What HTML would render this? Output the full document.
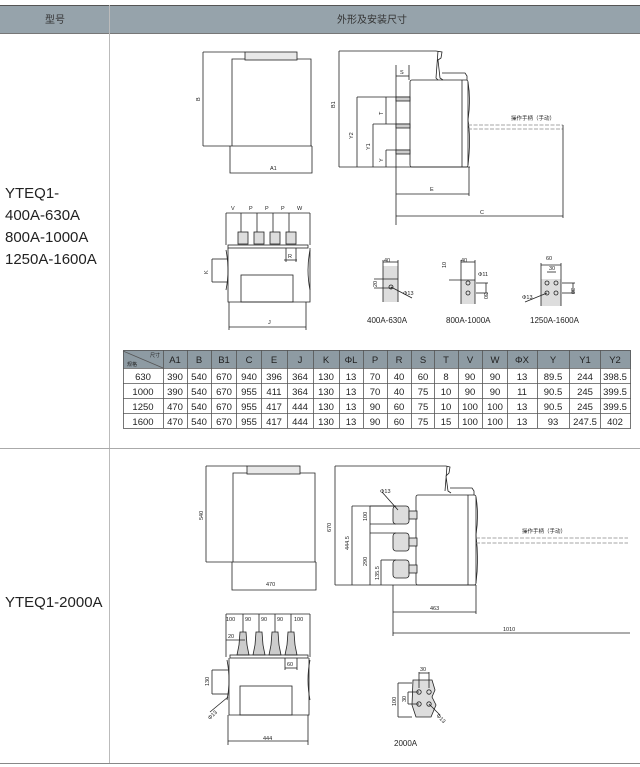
<!DOCTYPE html>
<html><head><meta charset="utf-8"><style>
body{margin:0;background:#fff;width:640px;height:767px;overflow:hidden;font-family:"Liberation Sans","Noto Sans CJK SC",sans-serif}
svg{position:absolute;left:0;top:0}
</style></head><body>
<svg width="640" height="767" viewBox="0 0 640 767" xmlns="http://www.w3.org/2000/svg" font-family="Liberation Sans, Noto Sans CJK SC, sans-serif">
<!-- header -->
<rect x="0" y="5" width="640" height="29" fill="#96a3ab"/>
<line x1="0" y1="5.5" x2="640" y2="5.5" stroke="#555" stroke-width="1"/>
<line x1="0" y1="33.5" x2="640" y2="33.5" stroke="#777" stroke-width="1"/>
<text x="55" y="23" font-size="10" text-anchor="middle" fill="#333">型号</text>
<text x="372" y="23" font-size="10" text-anchor="middle" fill="#333">外形及安装尺寸</text>
<line x1="109.5" y1="5" x2="109.5" y2="763" stroke="#bbb"/>
<line x1="0" y1="448.5" x2="640" y2="448.5" stroke="#aaa"/>
<line x1="0" y1="763.5" x2="640" y2="763.5" stroke="#888"/>
<g font-size="15" fill="#222">
<text x="5" y="198">YTEQ1-</text>
<text x="5" y="220">400A-630A</text>
<text x="5" y="242">800A-1000A</text>
<text x="5" y="264">1250A-1600A</text>
<text x="5" y="607">YTEQ1-2000A</text>
</g>

<g stroke="#222" stroke-width="0.8" fill="none">
<!-- top front view -->
<line x1="203" y1="52" x2="245" y2="52"/>
<line x1="203" y1="52" x2="203" y2="146"/>
<rect x="245" y="52" width="52" height="8" fill="#e8e8e8"/>
<polyline points="245,59 232,59 232,146"/><polyline points="297,59 311,59 311,146"/>
<line x1="203" y1="146" x2="312" y2="146"/>
<polyline points="230,146 230,173 312,173 312,146"/>
<!-- side view -->
<line x1="339" y1="51" x2="436" y2="51"/><line x1="339" y1="51" x2="339" y2="167"/>
<line x1="339" y1="167" x2="470" y2="167"/>
<path d="M436,51 L442,52 L441,58 L438,60 L440,78 L443,80 M438,51 L436,78 L438,80"/>
<path d="M442,73 L465,73 L467,76 L467,80"/>
<rect x="410" y="80" width="58" height="87" rx="2"/>
<line x1="462" y1="80" x2="462" y2="167"/>
<path d="M468,82 Q471,100 468,120 Q471,140 468,165"/>
<line x1="396" y1="65" x2="396" y2="225"/><line x1="396" y1="76" x2="409" y2="76"/>
<line x1="357" y1="97" x2="410" y2="97"/><line x1="373" y1="124" x2="410" y2="124"/><line x1="386" y1="150" x2="410" y2="150"/>
<rect x="396" y="97" width="14" height="4" fill="#ccc"/><rect x="396" y="124" width="14" height="4" fill="#ccc"/><rect x="396" y="150" width="14" height="4" fill="#ccc"/>
<line x1="357" y1="97" x2="357" y2="167"/><line x1="373" y1="124" x2="373" y2="167"/><line x1="386" y1="97" x2="386" y2="124"/><line x1="386" y1="150" x2="386" y2="167"/>
<line x1="409" y1="65" x2="409" y2="80"/>
<line x1="468" y1="125" x2="563" y2="125" stroke-dasharray="4,1.5" stroke="#888"/>
<line x1="468" y1="129" x2="563" y2="129" stroke-dasharray="4,1.5" stroke="#888"/>
<line x1="563" y1="125" x2="563" y2="218"/>
<line x1="469" y1="167" x2="469" y2="196"/>
<line x1="396" y1="194" x2="469" y2="194"/>
<line x1="396" y1="216" x2="563" y2="216"/>
<!-- top bottom-left view -->
<line x1="226" y1="213" x2="310" y2="213"/>
<line x1="226" y1="213" x2="226" y2="245"/><line x1="310" y1="213" x2="310" y2="245"/>
<line x1="241" y1="213" x2="241" y2="232"/><line x1="257" y1="213" x2="257" y2="232"/><line x1="273" y1="213" x2="273" y2="232"/><line x1="289" y1="213" x2="289" y2="232"/>
<rect x="238" y="232" width="10" height="12" fill="#ddd"/><rect x="254" y="232" width="10" height="12" fill="#ddd"/><rect x="270" y="232" width="10" height="12" fill="#ddd"/><rect x="286" y="232" width="10" height="12" fill="#ddd"/>
<rect x="228" y="245" width="80" height="3"/>
<path d="M228,248 L228,302 L310,302 L310,248"/>
<path d="M226,250 Q230,270 226,290 M310,250 Q306,270 310,290"/>
<rect x="241" y="275" width="52" height="27"/>
<line x1="212" y1="259" x2="228" y2="259"/><line x1="212" y1="282" x2="228" y2="282"/><line x1="212" y1="259" x2="212" y2="282"/>
<line x1="229" y1="302" x2="229" y2="330"/><line x1="306" y1="302" x2="306" y2="330"/>
<line x1="229" y1="327" x2="306" y2="327"/>
<line x1="286" y1="248" x2="286" y2="262"/><line x1="296" y1="248" x2="296" y2="262"/><line x1="284" y1="260" x2="297" y2="260"/>
<!-- busbars -->
<rect x="383" y="266" width="15" height="36" fill="#ddd" stroke="none"/>
<line x1="383" y1="260" x2="383" y2="302"/><line x1="398" y1="260" x2="398" y2="302"/><line x1="383" y1="262" x2="398" y2="262"/>
<line x1="374" y1="279" x2="398" y2="279"/><line x1="374" y1="288" x2="392" y2="288"/><circle cx="391" cy="287" r="2"/>
<line x1="391" y1="287" x2="412" y2="298"/>
<rect x="461" y="280" width="14" height="24" fill="#ddd" stroke="none"/>
<line x1="461" y1="260" x2="461" y2="304"/><line x1="475" y1="260" x2="475" y2="304"/><line x1="461" y1="262" x2="475" y2="262"/>
<line x1="449" y1="280" x2="475" y2="280"/><circle cx="468" cy="283" r="2"/><circle cx="468" cy="293" r="2"/>
<line x1="476" y1="283" x2="488" y2="283"/><line x1="476" y1="293" x2="488" y2="293"/><line x1="486" y1="283" x2="486" y2="293"/>
<rect x="541" y="279" width="20" height="27" fill="#ddd" stroke="none"/>
<line x1="541" y1="263" x2="541" y2="306"/><line x1="561" y1="263" x2="561" y2="306"/><line x1="541" y1="265" x2="561" y2="265"/>
<circle cx="547" cy="283" r="2"/><circle cx="556" cy="283" r="2"/><circle cx="547" cy="293" r="2"/><circle cx="556" cy="293" r="2"/>
<line x1="562" y1="283" x2="575" y2="283"/><line x1="562" y1="293" x2="575" y2="293"/><line x1="573" y1="283" x2="573" y2="293"/>
<line x1="547" y1="272" x2="556" y2="272"/>
<line x1="547" y1="293" x2="525" y2="302"/>
</g>
<g font-size="5.5" fill="#222">
<text x="200" y="101" transform="rotate(-90 200 101)">B</text>
<text x="270" y="170">A1</text>
<text x="335" y="108" transform="rotate(-90 335 108)">B1</text>
<text x="353" y="139" transform="rotate(-90 353 139)">Y2</text>
<text x="370" y="150" transform="rotate(-90 370 150)">Y1</text>
<text x="383" y="162" transform="rotate(-90 383 162)">Y</text>
<text x="383" y="115" transform="rotate(-90 383 115)">T</text>
<text x="400" y="74">S</text>
<text x="511" y="120">操作手柄（手动）</text>
<text x="430" y="191">E</text>
<text x="480" y="214">C</text>
<text x="231" y="210">V</text><text x="249" y="210">P</text><text x="265" y="210">P</text><text x="281" y="210">P</text><text x="297" y="210">W</text>
<text x="208" y="274" transform="rotate(-90 208 274)">K</text>
<text x="268" y="324">J</text><text x="288" y="258">R</text>
<text x="384" y="262">40</text><text x="461" y="262">40</text><text x="546" y="260">60</text><text x="549" y="270">30</text>
<text x="377" y="287" transform="rotate(-90 377 287)">20</text>
<text x="446" y="268" transform="rotate(-90 446 268)">10</text>
<text x="484" y="293" transform="rotate(90 484 293)">30</text>
<text x="571" y="288" transform="rotate(90 571 288)">30</text>
<text x="403" y="295">Φ13</text><text x="478" y="276">Φ11</text><text x="522" y="299">Φ13</text>
</g>
<g font-size="8" fill="#222">
<text x="367" y="323">400A-630A</text><text x="446" y="323">800A-1000A</text><text x="530" y="323">1250A-1600A</text>
</g>

<!-- table -->
<g font-size="9.5" fill="#222" text-anchor="middle">
<rect x="123" y="350" width="508" height="18" fill="#8e9ba3"/>
<g stroke="#555" stroke-width="0.8" fill="none">
<rect x="123.5" y="350.5" width="507" height="78"/>
<line x1="123" y1="368.5" x2="631" y2="368.5"/><line x1="123" y1="383.5" x2="631" y2="383.5"/><line x1="123" y1="398.5" x2="631" y2="398.5"/><line x1="123" y1="413.5" x2="631" y2="413.5"/>
<line x1="123" y1="351" x2="163" y2="368"/>
</g>
<g id="cols" stroke="#555" stroke-width="0.8">
<line x1="163.5" y1="350" x2="163.5" y2="428"/><line x1="187.5" y1="350" x2="187.5" y2="428"/><line x1="211.5" y1="350" x2="211.5" y2="428"/><line x1="236.5" y1="350" x2="236.5" y2="428"/><line x1="261.5" y1="350" x2="261.5" y2="428"/><line x1="287.5" y1="350" x2="287.5" y2="428"/><line x1="313.5" y1="350" x2="313.5" y2="428"/><line x1="339.5" y1="350" x2="339.5" y2="428"/><line x1="363.5" y1="350" x2="363.5" y2="428"/><line x1="387.5" y1="350" x2="387.5" y2="428"/><line x1="411.5" y1="350" x2="411.5" y2="428"/><line x1="434.5" y1="350" x2="434.5" y2="428"/><line x1="458.5" y1="350" x2="458.5" y2="428"/><line x1="482.5" y1="350" x2="482.5" y2="428"/><line x1="507.5" y1="350" x2="507.5" y2="428"/><line x1="537.5" y1="350" x2="537.5" y2="428"/><line x1="569.5" y1="350" x2="569.5" y2="428"/><line x1="600.5" y1="350" x2="600.5" y2="428"/>
</g>
<text x="127" y="366" font-size="5" text-anchor="start">规格</text><text x="155" y="357" font-size="5">尺寸</text>
<text x="175" y="363">A1</text><text x="199" y="363">B</text><text x="224" y="363">B1</text><text x="249" y="363">C</text><text x="274" y="363">E</text><text x="300" y="363">J</text><text x="326" y="363">K</text><text x="351" y="363">ΦL</text><text x="375" y="363">P</text><text x="399" y="363">R</text><text x="423" y="363">S</text><text x="446" y="363">T</text><text x="470" y="363">V</text><text x="495" y="363">W</text><text x="522" y="363">ΦX</text><text x="553" y="363">Y</text><text x="585" y="363">Y1</text><text x="615" y="363">Y2</text>
<g>
<text x="143" y="380">630</text><text x="175" y="380">390</text><text x="199" y="380">540</text><text x="224" y="380">670</text><text x="249" y="380">940</text><text x="274" y="380">396</text><text x="300" y="380">364</text><text x="326" y="380">130</text><text x="351" y="380">13</text><text x="375" y="380">70</text><text x="399" y="380">40</text><text x="423" y="380">60</text><text x="446" y="380">8</text><text x="470" y="380">90</text><text x="495" y="380">90</text><text x="522" y="380">13</text><text x="553" y="380">89.5</text><text x="585" y="380">244</text><text x="615" y="380">398.5</text>
<text x="143" y="395">1000</text><text x="175" y="395">390</text><text x="199" y="395">540</text><text x="224" y="395">670</text><text x="249" y="395">955</text><text x="274" y="395">411</text><text x="300" y="395">364</text><text x="326" y="395">130</text><text x="351" y="395">13</text><text x="375" y="395">70</text><text x="399" y="395">40</text><text x="423" y="395">75</text><text x="446" y="395">10</text><text x="470" y="395">90</text><text x="495" y="395">90</text><text x="522" y="395">11</text><text x="553" y="395">90.5</text><text x="585" y="395">245</text><text x="615" y="395">399.5</text>
<text x="143" y="410">1250</text><text x="175" y="410">470</text><text x="199" y="410">540</text><text x="224" y="410">670</text><text x="249" y="410">955</text><text x="274" y="410">417</text><text x="300" y="410">444</text><text x="326" y="410">130</text><text x="351" y="410">13</text><text x="375" y="410">90</text><text x="399" y="410">60</text><text x="423" y="410">75</text><text x="446" y="410">10</text><text x="470" y="410">100</text><text x="495" y="410">100</text><text x="522" y="410">13</text><text x="553" y="410">90.5</text><text x="585" y="410">245</text><text x="615" y="410">399.5</text>
<text x="143" y="425">1600</text><text x="175" y="425">470</text><text x="199" y="425">540</text><text x="224" y="425">670</text><text x="249" y="425">955</text><text x="274" y="425">417</text><text x="300" y="425">444</text><text x="326" y="425">130</text><text x="351" y="425">13</text><text x="375" y="425">90</text><text x="399" y="425">60</text><text x="423" y="425">75</text><text x="446" y="425">15</text><text x="470" y="425">100</text><text x="495" y="425">100</text><text x="522" y="425">13</text><text x="553" y="425">93</text><text x="585" y="425">247.5</text><text x="615" y="425">402</text>
</g>
</g>

<!-- bottom section -->
<g stroke="#222" stroke-width="0.8" fill="none">
<line x1="206" y1="466" x2="247" y2="466"/><line x1="206" y1="466" x2="206" y2="562"/>
<rect x="247" y="466" width="53" height="8" fill="#e8e8e8"/>
<polyline points="247,473 233,473 233,562"/><polyline points="300,473 315,473 315,562"/>
<line x1="206" y1="562" x2="316" y2="562"/>
<polyline points="232,562 232,590 316,590 316,562"/>
<line x1="335" y1="466" x2="446" y2="466"/><line x1="335" y1="466" x2="335" y2="585"/>
<line x1="335" y1="585" x2="476" y2="585"/>
<path d="M446,466 L450,467 L449,473 L446,476 L448,491 L451,493 M447,466 L445,491"/>
<path d="M450,488 L472,488 L474,491 L474,495"/>
<rect x="416" y="495" width="60" height="90" rx="2"/>
<line x1="468" y1="495" x2="468" y2="585"/>
<path d="M476,497 Q479,515 476,535 Q479,560 476,583"/>
<line x1="352" y1="506" x2="396" y2="506"/><line x1="352" y1="506" x2="352" y2="585"/>
<line x1="370" y1="506" x2="370" y2="533"/><line x1="370" y1="533" x2="396" y2="533"/>
<line x1="370" y1="533" x2="370" y2="585"/>
<line x1="381" y1="560" x2="396" y2="560"/><line x1="381" y1="560" x2="381" y2="585"/>
<line x1="370" y1="506" x2="396" y2="506"/><line x1="370" y1="524" x2="396" y2="524"/>
<rect x="393" y="506" width="16" height="18" rx="3" fill="#ddd"/><rect x="409" y="511" width="8" height="8" fill="#ddd"/>
<rect x="393" y="533" width="16" height="18" rx="3" fill="#ddd"/><rect x="409" y="538" width="8" height="8" fill="#ddd"/>
<rect x="393" y="560" width="16" height="18" rx="3" fill="#ddd"/><rect x="409" y="565" width="8" height="8" fill="#ddd"/>
<line x1="382" y1="492" x2="398" y2="510"/>
<line x1="476" y1="538" x2="628" y2="538" stroke-dasharray="4,1.5" stroke="#888"/>
<line x1="476" y1="543" x2="628" y2="543" stroke-dasharray="4,1.5" stroke="#888"/>
<line x1="393" y1="585" x2="393" y2="636"/><line x1="476" y1="585" x2="476" y2="614"/>
<line x1="393" y1="612" x2="476" y2="612"/><line x1="393" y1="633" x2="630" y2="633"/>
<!-- bottom-left view -->
<line x1="226" y1="614" x2="310" y2="614"/>
<line x1="226" y1="614" x2="226" y2="657"/><line x1="310" y1="614" x2="310" y2="657"/>
<line x1="243" y1="614" x2="243" y2="632"/><line x1="259" y1="614" x2="259" y2="632"/><line x1="275" y1="614" x2="275" y2="632"/><line x1="291" y1="614" x2="291" y2="632"/>
<path d="M240,632 L246,632 L247,645 L249,655 L237,655 L239,645Z" fill="#ccc"/>
<path d="M256,632 L262,632 L263,645 L265,655 L253,655 L255,645Z" fill="#ccc"/>
<path d="M272,632 L278,632 L279,645 L281,655 L269,655 L271,645Z" fill="#ccc"/>
<path d="M288,632 L294,632 L295,645 L297,655 L285,655 L287,645Z" fill="#ccc"/>
<line x1="226" y1="640" x2="245" y2="640"/>
<rect x="230" y="655" width="78" height="3"/>
<path d="M229,658 L229,715 L309,715 L309,658"/>
<path d="M227,660 Q231,680 227,700 M310,660 Q306,680 310,700"/>
<rect x="240" y="686" width="52" height="29"/>
<line x1="212" y1="670" x2="228" y2="670"/><line x1="212" y1="694" x2="228" y2="694"/><line x1="212" y1="670" x2="212" y2="694"/>
<line x1="228" y1="697" x2="210" y2="712"/>
<line x1="228" y1="715" x2="228" y2="745"/><line x1="308" y1="715" x2="308" y2="745"/>
<line x1="228" y1="741" x2="308" y2="741"/>
<line x1="285" y1="658" x2="285" y2="670"/><line x1="297" y1="658" x2="297" y2="670"/><line x1="285" y1="668" x2="297" y2="668"/>
<path d="M413,680 L432,680 L435,690 L432,697 L436,705 L431,717 L416,717 L412,705Z" fill="#ddd"/>
<circle cx="419" cy="692" r="2.2"/><circle cx="429" cy="692" r="2.2"/><circle cx="419" cy="704" r="2.2"/><circle cx="429" cy="704" r="2.2"/>
<line x1="398" y1="683" x2="412" y2="683"/><line x1="398" y1="717" x2="412" y2="717"/><line x1="398" y1="683" x2="398" y2="717"/>
<line x1="408" y1="692" x2="419" y2="692"/><line x1="408" y1="704" x2="419" y2="704"/><line x1="408" y1="692" x2="408" y2="704"/>
<line x1="419" y1="672" x2="419" y2="688"/><line x1="429" y1="672" x2="429" y2="688"/><line x1="419" y1="673" x2="429" y2="673"/>
<line x1="429" y1="704" x2="440" y2="715"/>
</g>
<g font-size="5.5" fill="#222">
<text x="203" y="520" transform="rotate(-90 203 520)">540</text>
<text x="266" y="586">470</text>
<text x="331" y="532" transform="rotate(-90 331 532)">670</text>
<text x="349" y="550" transform="rotate(-90 349 550)">444.5</text>
<text x="367" y="566" transform="rotate(-90 367 566)">290</text>
<text x="367" y="521" transform="rotate(-90 367 521)">100</text>
<text x="379" y="580" transform="rotate(-90 379 580)">135.5</text>
<text x="380" y="493">Φ13</text>
<text x="522" y="533">操作手柄（手动）</text>
<text x="430" y="610">463</text><text x="503" y="631">1010</text>
<text x="226" y="621">100</text><text x="245" y="621">90</text><text x="261" y="621">90</text><text x="277" y="621">90</text><text x="294" y="621">100</text>
<text x="228" y="638">20</text><text x="287" y="666">60</text>
<text x="209" y="686" transform="rotate(-90 209 686)">130</text>
<text x="210" y="720" transform="rotate(-45 210 720)">Φ13</text>
<text x="263" y="740">444</text>
<text x="420" y="671">30</text>
<text x="396" y="706" transform="rotate(-90 396 706)">100</text>
<text x="406" y="702" transform="rotate(-90 406 702)">30</text>
<text x="436" y="716" transform="rotate(45 436 716)">Φ13</text>
</g>
<text x="394" y="746" font-size="8" fill="#222">2000A</text>
</svg>
</body></html>
